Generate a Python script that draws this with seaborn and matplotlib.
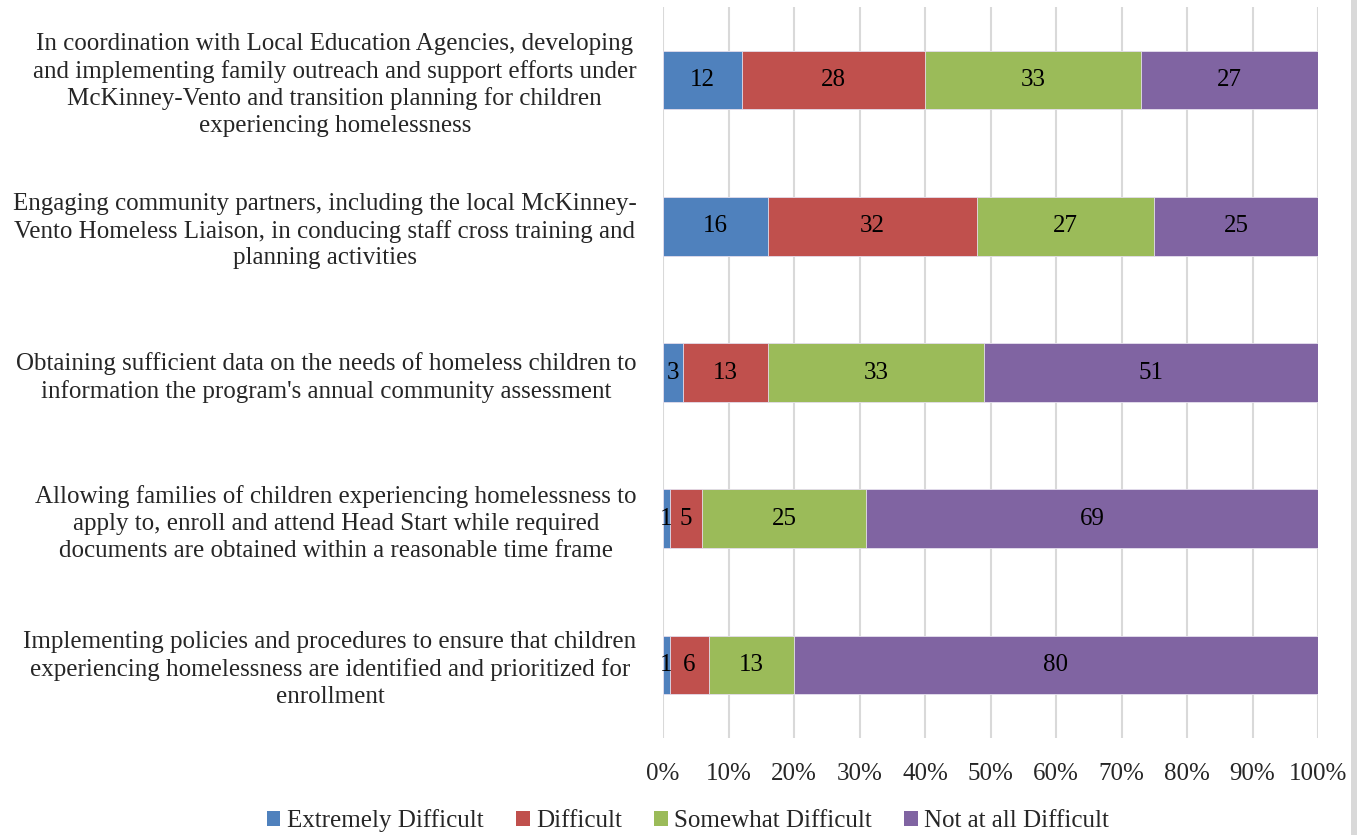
import matplotlib
matplotlib.use("Agg")
import matplotlib.pyplot as plt
from matplotlib.patches import Patch, Rectangle
from matplotlib.ticker import FuncFormatter
import numpy as np
import pandas as pd
import seaborn as sns

categories = [
    "In coordination with Local Education Agencies, developing\n"
    "and implementing family outreach and support efforts under\n"
    "McKinney-Vento and transition planning for children\n"
    "experiencing homelessness",
    "Engaging community partners, including the local McKinney-\n"
    "Vento Homeless Liaison, in conducing staff cross training and\n"
    "planning activities",
    "Obtaining sufficient data on the needs of homeless children to\n"
    "information the program's annual community assessment",
    "Allowing families of children experiencing homelessness to\n"
    "apply to, enroll and attend Head Start while required\n"
    "documents are obtained within a reasonable time frame",
    "Implementing policies and procedures to ensure that children\n"
    "experiencing homelessness are identified and prioritized for\n"
    "enrollment",
]
series_names = ["Extremely Difficult", "Difficult", "Somewhat Difficult", "Not at all Difficult"]
extremely = [12, 16, 3, 1, 1]
difficult = [28, 32, 13, 5, 6]
somewhat = [33, 27, 33, 25, 13]
not_at_all = [27, 25, 51, 69, 80]
tick_values = [0, 10, 20, 30, 40, 50, 60, 70, 80, 90, 100]

colors = ["#4F81BD", "#C0504D", "#9BBB59", "#8064A2"]

sns.set_theme(style="white")
plt.rcParams["font.family"] = ["Liberation Serif", "DejaVu Serif"]

FS = 18

values = np.array([extremely, difficult, somewhat, not_at_all], dtype=float)
cum = values.cumsum(axis=0)

fig = plt.figure(figsize=(13.67, 8.35), dpi=100)
ax = fig.add_axes([663 / 1367, 1 - 738 / 835, (1318 - 663) / 1367, (738 - 7) / 835])

# Stacked bars: draw cumulative totals from the outermost segment inward
for i in range(len(series_names) - 1, -1, -1):
    df = pd.DataFrame({"category": categories, "value": cum[i]})
    sns.barplot(data=df, x="value", y="category", order=categories,
                color=colors[i], saturation=1, width=0.4, ax=ax,
                edgecolor="#E6E0EE", linewidth=0.6, zorder=3)

# Segment value labels
for i in range(len(series_names)):
    for j in range(len(categories)):
        v = values[i, j]
        ax.text(cum[i, j] - v / 2, j, f"{v:.0f}", ha="center", va="center",
                fontsize=FS, color="black", zorder=5)

ax.set_xlim(0, 100)
ax.set_ylim(len(categories) - 0.5, -0.5)
ax.set_xticks(tick_values)
ax.xaxis.set_major_formatter(FuncFormatter(lambda x, _: f"{x:.0f}%"))
ax.grid(axis="x", color="#D9D9D9", linewidth=1.5, zorder=0)
ax.grid(axis="y", visible=False)
ax.set_axisbelow(True)
for s in ax.spines.values():
    s.set_visible(False)
ax.set_xlabel("")
ax.set_ylabel("")
ax.tick_params(axis="x", length=0, pad=18, labelsize=FS)
ax.tick_params(axis="y", length=0, pad=19, labelsize=FS)
for lbl in ax.get_yticklabels():
    lbl.set_multialignment("center")
    lbl.set_linespacing(1.27)

handles = [Patch(facecolor=c, edgecolor="none") for c in colors]
fig.legend(handles, series_names, loc="center", bbox_to_anchor=(688 / 1367, 1 - 821 / 835),
           ncol=4, frameon=False, fontsize=FS, handlelength=0.55, handleheight=0.55,
           handletextpad=0.25, columnspacing=1.3)

# Thin grey frame strip along the right edge
fig.patches.append(Rectangle((1351 / 1367, 0), 6 / 1367, 1, transform=fig.transFigure,
                             facecolor="#D9D9D9", edgecolor="none", zorder=0))

fig.savefig("out.png", dpi=100)
